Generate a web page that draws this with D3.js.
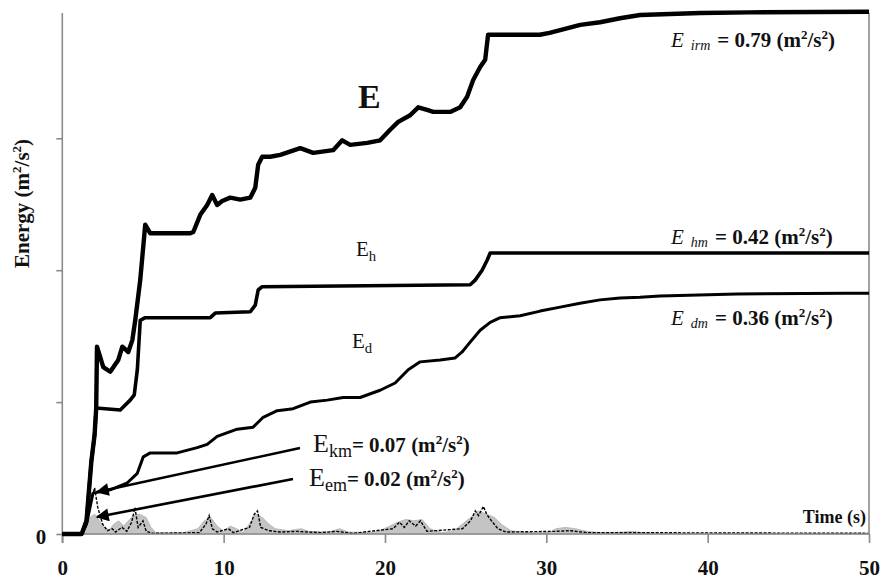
<!DOCTYPE html>
<html>
<head>
<meta charset="utf-8">
<script src="https://cdn.jsdelivr.net/npm/d3@7"></script>
<style>
  html, body { margin: 0; padding: 0; background: #fff; }
  svg { display: block; }
  text { font-family: "Liberation Serif", "Times New Roman", serif; fill: #111; }
</style>
</head>
<body>
<svg id="chart" width="881" height="586"></svg>
<script>
// ---- data (time in s, energy in m^2/s^2) ----
const xTicks = [0, 10, 20, 30, 40, 50];
const yTicks = [0, 0.2, 0.4, 0.6];
const yTickLabels = ["0", "", "", ""];

const seriesE = [
  [0,0],[1.2,0],[1.5,0.02],[1.8,0.11],[2.0,0.15],[2.1,0.19],[2.15,0.284],[2.54,0.253],[2.97,0.246],
  [3.47,0.264],[3.72,0.284],[4.09,0.276],[4.34,0.294],[4.52,0.324],[4.83,0.385],[5.14,0.469],
  [5.45,0.456],[7.93,0.456],[8.12,0.458],[8.55,0.484],[8.98,0.499],[9.29,0.514],[9.6,0.499],
  [9.91,0.505],[10.41,0.51],[11.03,0.507],[11.65,0.51],[11.96,0.525],[12.14,0.56],[12.39,0.572],
  [12.89,0.572],[13.51,0.575],[14.75,0.585],[15.55,0.578],[16.79,0.582],[17.35,0.597],[17.84,0.59],
  [18.9,0.593],[19.7,0.597],[20.32,0.613],[20.82,0.625],[21.56,0.635],[22.06,0.647],[22.61,0.643],
  [22.99,0.64],[24.04,0.64],[24.66,0.647],[25.09,0.663],[25.46,0.688],[25.9,0.708],[26.21,0.719],
  [26.39,0.757],[26.83,0.757],[29.6,0.757],[30.2,0.76],[30.86,0.764],[32.1,0.772],[33.33,0.776],
  [34.57,0.782],[35.81,0.787],[39.53,0.79],[42.6,0.791],[50,0.792]
];
const seriesEh = [
  [0,0],[1.2,0],[1.5,0.02],[1.8,0.11],[2.0,0.15],[2.1,0.191],[3.59,0.188],[4.21,0.203],[4.46,0.211],
  [4.65,0.249],[4.83,0.324],[5.14,0.328],[9.17,0.328],[9.48,0.335],[11.65,0.337],[11.96,0.347],
  [12.14,0.37],[12.39,0.375],[25.28,0.378],[25.59,0.385],[26.02,0.4],[26.33,0.415],[26.52,0.426],[50,0.426]
];
const seriesEd = [
  [0,0],[1.2,0],[1.5,0.015],[1.8,0.05],[1.9,0.062],[2.97,0.067],[4.0,0.077],[4.65,0.092],[5.02,0.117],
  [5.45,0.123],[7.12,0.123],[8.36,0.131],[8.98,0.136],[9.6,0.148],[10.84,0.159],[11.83,0.162],
  [12.45,0.177],[13.32,0.187],[14.31,0.19],[15.37,0.2],[16.42,0.203],[17.41,0.207],[18.46,0.207],
  [19.7,0.218],[20.63,0.229],[21.44,0.249],[22.18,0.261],[23.42,0.264],[24.35,0.267],[24.78,0.276],
  [25.28,0.291],[25.9,0.309],[26.52,0.321],[27.14,0.328],[28.38,0.331],[29.62,0.338],[30.86,0.344],
  [32.09,0.35],[33.33,0.355],[34.57,0.358],[35.81,0.359],[37.05,0.361],[41.82,0.364],[48.64,0.365],[50,0.365]
];
const seriesEe = [
  [0,0],[1.2,0],[1.4,0.01],[1.7,0.025],[2.0,0.03],[2.3,0.02],[2.6,0.01],[2.9,0.006],[3.2,0.015],
  [3.5,0.02],[3.8,0.012],[4.1,0.02],[4.4,0.028],[4.8,0.03],[5.2,0.025],[5.5,0.01],[5.8,0.002],
  [7.5,0.002],[8.4,0.008],[8.8,0.02],[9.2,0.025],[9.6,0.012],[10.0,0.004],[10.4,0.012],[10.8,0.008],
  [11.2,0.002],[11.6,0.015],[12.0,0.03],[12.4,0.025],[12.8,0.015],[13.2,0.008],[14,0.005],[14.8,0.008],
  [15.3,0.004],[16.5,0.003],[17.2,0.008],[17.7,0.003],[19,0.002],[19.6,0.004],[20.3,0.012],[20.8,0.018],
  [21.3,0.022],[21.8,0.02],[22.3,0.022],[22.8,0.008],[23.5,0.002],[24.3,0.005],[24.8,0.015],[25.3,0.025],
  [25.8,0.035],[26.3,0.03],[26.8,0.025],[27.2,0.015],[27.8,0.005],[29,0.002],[30.2,0.002],[30.6,0.008],
  [31.2,0.01],[31.8,0.008],[32.5,0.004],[33.5,0.002],[34.8,0.003],[35.3,0.004],[36,0.002],[37,0.001],[50,0.001]
];
const seriesEk = [
  [0,0],[1.2,0],[1.5,0.02],[1.8,0.05],[2.0,0.07],[2.2,0.04],[2.5,0.015],[2.8,0.005],[3.1,0.008],[3.3,0.003],
  [3.7,0.01],[4.0,0.004],[4.3,0.018],[4.5,0.04],[4.7,0.01],[5.0,0.02],[5.2,0.004],[5.6,0.001],[8.5,0.002],
  [8.9,0.015],[9.1,0.028],[9.3,0.008],[9.6,0.003],[10.3,0.008],[10.6,0.002],[11.6,0.01],[11.9,0.03],
  [12.1,0.035],[12.3,0.01],[12.8,0.005],[13.5,0.003],[14.5,0.004],[16,0.002],[17,0.004],[18,0.001],
  [20.5,0.008],[20.9,0.018],[21.2,0.01],[21.5,0.02],[21.9,0.012],[22.2,0.02],[22.6,0.004],[24.8,0.008],
  [25.3,0.02],[25.6,0.035],[25.8,0.028],[26.1,0.042],[26.3,0.03],[26.6,0.02],[27,0.008],[27.5,0.003],
  [30.5,0.004],[31.5,0.005],[32.5,0.002],[35,0.002],[50,0.001]
];

// ---- layout ----
const svg = d3.select("#chart");
const x = d3.scaleLinear().domain([0, 50]).range([62.3, 869]);
const y = d3.scaleLinear().domain([0, 0.79]).range([534, 13]);
const axisColor = "#8a8a8a";
const SERIF = '"Liberation Serif", "Times New Roman", serif';

const line = d3.line().x(d => x(d[0])).y(d => y(d[1]));
const area = d3.area().x(d => x(d[0])).y0(y(0)).y1(d => y(d[1]));

// gray Ee area
svg.append("path").datum(seriesEe).attr("d", area).attr("fill", "#c4c4c4").attr("stroke", "#b0b0b0").attr("stroke-width", 0.8);
// black Ek spikes
svg.append("path").datum(seriesEk).attr("d", line).attr("fill", "none").attr("stroke", "#000").attr("stroke-width", 1.4).attr("stroke-dasharray", "3,1.5");

// axes
const gx = svg.append("g").attr("transform", `translate(0,${y(0)})`)
  .call(d3.axisBottom(x).tickValues(xTicks).tickSize(9).tickFormat(d3.format("d")));
const gy = svg.append("g").attr("transform", `translate(${x(0)},0)`)
  .call(d3.axisLeft(y).tickValues(yTicks).tickSize(6).tickFormat((d, i) => yTickLabels[i]));
[gx, gy].forEach(g => {
  g.attr("font-family", null);
  g.select(".domain").attr("stroke", axisColor).attr("stroke-width", 1.6);
  g.selectAll(".tick line").attr("stroke", axisColor).attr("stroke-width", 1.6);
  g.selectAll(".tick text").style("font-family", SERIF).attr("font-weight", "bold")
    .attr("font-size", 21).attr("fill", "#111");
});
gx.select(".domain").attr("d", `M${x(0)},0H${x(50)}`);
gx.selectAll(".tick text").attr("dy", "1.4em");
gy.select(".domain").attr("d", `M0,${y(0) + 9}V${y(0.79)}`);
gy.selectAll(".tick text").attr("x", -16).attr("dy", "0.45em");
// right frame line
svg.append("line").attr("x1", x(50)).attr("x2", x(50)).attr("y1", y(0.79)).attr("y2", y(0))
  .attr("stroke", axisColor).attr("stroke-width", 1.6);

// main curves
svg.append("path").datum(seriesEd).attr("d", line).attr("fill", "none").attr("stroke", "#000")
  .attr("stroke-width", 3).attr("stroke-linejoin", "round");
svg.append("path").datum(seriesEh).attr("d", line).attr("fill", "none").attr("stroke", "#000")
  .attr("stroke-width", 3.6).attr("stroke-linejoin", "round");
svg.append("path").datum(seriesE).attr("d", line).attr("fill", "none").attr("stroke", "#000")
  .attr("stroke-width", 4.4).attr("stroke-linejoin", "round");

// arrows
const defs = svg.append("defs");
defs.append("marker").attr("id", "ah").attr("viewBox", "0 0 10 10").attr("refX", 9).attr("refY", 5)
  .attr("markerWidth", 6).attr("markerHeight", 5).attr("markerUnits", "strokeWidth").attr("orient", "auto")
  .append("path").attr("d", "M0,0L10,5L0,10Z").attr("fill", "#000");
const arrows = [[300, 448, 97, 492], [293, 479, 97, 517]];
arrows.forEach(a => {
  svg.append("line").attr("x1", a[0]).attr("y1", a[1]).attr("x2", a[2]).attr("y2", a[3])
    .attr("stroke", "#000").attr("stroke-width", 2.6).attr("marker-end", "url(#ah)");
});

// helper: "(m²/s²)" with raised 2s
function unit(t, size, bold) {
  const w = bold ? "bold" : null;
  const sup = size * 0.62, up = size * 0.4;
  t.append("tspan").attr("font-weight", w).attr("font-size", size).text(" (m");
  t.append("tspan").attr("font-weight", w).attr("font-size", sup).attr("dy", -up).text("2");
  t.append("tspan").attr("font-weight", w).attr("font-size", size).attr("dy", up).text("/s");
  t.append("tspan").attr("font-weight", w).attr("font-size", sup).attr("dy", -up).text("2");
  t.append("tspan").attr("font-weight", w).attr("font-size", size).attr("dy", up).text(")");
}

// axis titles
const yt = svg.append("text").attr("transform", "translate(29,268) rotate(-90)").attr("text-anchor", "start")
  .attr("font-weight", "bold").attr("font-size", 21);
yt.append("tspan").text("Energy");
unit(yt, 21, true);
svg.append("text").attr("x", 866).attr("y", 523).attr("text-anchor", "end")
  .attr("font-weight", "bold").attr("font-size", 18).text("Time (s)");

// curve labels
svg.append("text").attr("x", 358).attr("y", 108).attr("font-weight", "bold").attr("font-size", 34).text("E");
function subLabel(px, py, sub, size) {
  const t = svg.append("text").attr("x", px).attr("y", py).attr("font-size", size);
  t.append("tspan").text("E");
  t.append("tspan").attr("font-size", size * 0.7).attr("dy", size * 0.22).text(sub);
}
subLabel(356, 256, "h", 21);
subLabel(352, 348, "d", 21);

function maxLabel(px, py, sub, val) {
  const size = 21;
  const t = svg.append("text").attr("x", px).attr("y", py).attr("font-size", size);
  t.append("tspan").attr("font-style", "italic").text("E");
  t.append("tspan").attr("font-style", "italic").attr("font-size", 14).attr("dx", 7).attr("dy", 3).text(sub);
  t.append("tspan").attr("font-weight", "bold").attr("dy", -3).attr("dx", 7).text("= " + val);
  unit(t, size, true);
}
maxLabel(671, 47, "irm", "0.79");
maxLabel(671, 244, "hm", "0.42");
maxLabel(671, 325, "dm", "0.36");

function smallLabel(px, py, sub, val) {
  const t = svg.append("text").attr("x", px).attr("y", py).attr("font-size", 26);
  t.append("tspan").text("E");
  t.append("tspan").attr("font-size", 18).attr("dy", 5).text(sub);
  t.append("tspan").attr("font-size", 21).attr("font-weight", "bold").attr("dy", -5).text("= " + val);
  unit(t, 21, true);
}
smallLabel(313, 452, "km", "0.07");
smallLabel(309, 486, "em", "0.02");
</script>
</body>
</html>
